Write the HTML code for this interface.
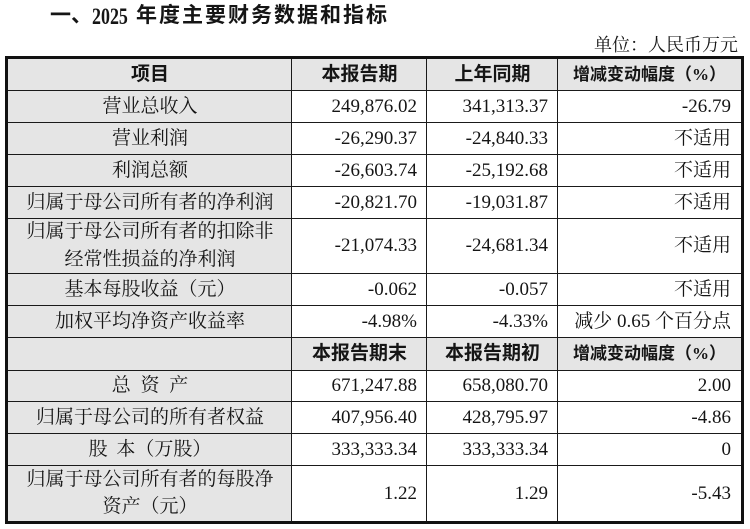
<!DOCTYPE html>
<html><head><meta charset="utf-8">
<style>
html,body{margin:0;padding:0;background:#fff;}
body{width:750px;height:529px;position:relative;overflow:hidden;color:#151515;}
.a{position:absolute;white-space:nowrap;}
.s{font-family:"Liberation Serif","Noto Serif CJK SC",serif;font-size:19px;}
.h{font-family:"Liberation Serif","Noto Sans CJK SC",sans-serif;font-size:19px;font-weight:700;}
.g{position:absolute;background:#e5e5e5;}
.hl{position:absolute;height:1px;background:#1a1a1a;left:8px;width:733px;}
.vl{position:absolute;width:1px;background:#1a1a1a;top:59px;height:462px;}
.c1{left:8px;width:284px;text-align:center;}
.c2{left:292px;width:125px;text-align:right;}
.c3{left:427px;width:121px;text-align:right;}
.c4{left:558px;width:173px;text-align:right;}
.h2{left:292px;width:135px;text-align:center;}
.h3{left:427px;width:131px;text-align:center;}
.h4{left:558px;width:183px;text-align:center;}
</style></head><body>

<!-- title -->
<div class="a" style="left:50px;top:1px;line-height:30px;font-family:'Liberation Sans','Noto Sans CJK SC',sans-serif;font-weight:700;font-size:21px;">一、</div>
<div class="a" style="left:92px;top:2px;line-height:30px;font-family:'Liberation Serif',serif;font-weight:700;font-size:23px;transform:scaleX(0.78);transform-origin:0 0;">2025</div>
<div class="a" style="left:136px;top:1px;line-height:30px;font-family:'Liberation Sans','Noto Sans CJK SC',sans-serif;font-weight:700;font-size:21px;letter-spacing:2px;">年度主要财务数据和指标</div>

<div class="a" style="right:12px;top:35px;line-height:21px;font-family:'Liberation Serif','Noto Serif CJK SC',serif;font-size:18px;">单位：人民币万元</div>

<!-- backgrounds -->
<div class="g" style="left:8px;top:59px;width:284px;height:462px;"></div>
<div class="g" style="left:8px;top:59px;width:733px;height:31px;"></div>
<div class="g" style="left:8px;top:338px;width:733px;height:32px;"></div>

<!-- outer border -->
<div class="a" style="left:5px;top:56px;width:733px;height:462px;border:3px solid #111;"></div>

<!-- horizontal lines -->
<div class="hl" style="top:90px;"></div>
<div class="hl" style="top:122px;"></div>
<div class="hl" style="top:154px;"></div>
<div class="hl" style="top:186px;"></div>
<div class="hl" style="top:218px;"></div>
<div class="hl" style="top:273px;"></div>
<div class="hl" style="top:305px;"></div>
<div class="hl" style="top:337px;"></div>
<div class="hl" style="top:370px;"></div>
<div class="hl" style="top:401px;"></div>
<div class="hl" style="top:433px;"></div>
<div class="hl" style="top:465px;"></div>

<!-- vertical lines -->
<div class="vl" style="left:291px;"></div>
<div class="vl" style="left:426px;"></div>
<div class="vl" style="left:557px;"></div>

<!-- header row -->
<div class="a h c1" style="top:59px;line-height:31px;">项目</div>
<div class="a h h2" style="top:59px;line-height:31px;">本报告期</div>
<div class="a h h3" style="top:59px;line-height:31px;">上年同期</div>
<div class="a h h4" style="top:59px;line-height:31px;font-size:17px;">增减变动幅度（%）</div>

<!-- r1 -->
<div class="a s c1" style="top:91px;line-height:31px;">营业总收入</div>
<div class="a s c2" style="top:91px;line-height:31px;">249,876.02</div>
<div class="a s c3" style="top:91px;line-height:31px;">341,313.37</div>
<div class="a s c4" style="top:91px;line-height:31px;">-26.79</div>
<!-- r2 -->
<div class="a s c1" style="top:123px;line-height:31px;">营业利润</div>
<div class="a s c2" style="top:123px;line-height:31px;">-26,290.37</div>
<div class="a s c3" style="top:123px;line-height:31px;">-24,840.33</div>
<div class="a s c4" style="top:123px;line-height:31px;">不适用</div>
<!-- r3 -->
<div class="a s c1" style="top:155px;line-height:31px;">利润总额</div>
<div class="a s c2" style="top:155px;line-height:31px;">-26,603.74</div>
<div class="a s c3" style="top:155px;line-height:31px;">-25,192.68</div>
<div class="a s c4" style="top:155px;line-height:31px;">不适用</div>
<!-- r4 -->
<div class="a s c1" style="top:187px;line-height:31px;">归属于母公司所有者的净利润</div>
<div class="a s c2" style="top:187px;line-height:31px;">-20,821.70</div>
<div class="a s c3" style="top:187px;line-height:31px;">-19,031.87</div>
<div class="a s c4" style="top:187px;line-height:31px;">不适用</div>
<!-- r5 -->
<div class="a s c1" style="top:218px;line-height:28px;">归属于母公司所有者的扣除非<br>经常性损益的净利润</div>
<div class="a s c2" style="top:219px;line-height:54px;">-21,074.33</div>
<div class="a s c3" style="top:219px;line-height:54px;">-24,681.34</div>
<div class="a s c4" style="top:219px;line-height:54px;">不适用</div>
<!-- r6 -->
<div class="a s c1" style="top:274px;line-height:31px;">基本每股收益（元）</div>
<div class="a s c2" style="top:274px;line-height:31px;">-0.062</div>
<div class="a s c3" style="top:274px;line-height:31px;">-0.057</div>
<div class="a s c4" style="top:274px;line-height:31px;">不适用</div>
<!-- r7 -->
<div class="a s c1" style="top:306px;line-height:31px;">加权平均净资产收益率</div>
<div class="a s c2" style="top:306px;line-height:31px;">-4.98%</div>
<div class="a s c3" style="top:306px;line-height:31px;">-4.33%</div>
<div class="a s c4" style="top:306px;line-height:31px;">减少 0.65 个百分点</div>
<!-- r8 header2 -->
<div class="a h h2" style="top:338px;line-height:32px;">本报告期末</div>
<div class="a h h3" style="top:338px;line-height:32px;">本报告期初</div>
<div class="a h h4" style="top:338px;line-height:32px;font-size:17px;">增减变动幅度（%）</div>
<!-- r9 -->
<div class="a s c1" style="top:371px;line-height:30px;word-spacing:5px;">总 资 产</div>
<div class="a s c2" style="top:371px;line-height:30px;">671,247.88</div>
<div class="a s c3" style="top:371px;line-height:30px;">658,080.70</div>
<div class="a s c4" style="top:371px;line-height:30px;">2.00</div>
<!-- r10 -->
<div class="a s c1" style="top:402px;line-height:31px;">归属于母公司的所有者权益</div>
<div class="a s c2" style="top:402px;line-height:31px;">407,956.40</div>
<div class="a s c3" style="top:402px;line-height:31px;">428,795.97</div>
<div class="a s c4" style="top:402px;line-height:31px;">-4.86</div>
<!-- r11 -->
<div class="a s c1" style="top:434px;line-height:31px;word-spacing:4px;">股 本（万股）</div>
<div class="a s c2" style="top:434px;line-height:31px;">333,333.34</div>
<div class="a s c3" style="top:434px;line-height:31px;">333,333.34</div>
<div class="a s c4" style="top:434px;line-height:31px;">0</div>
<!-- r12 -->
<div class="a s c1" style="top:466px;line-height:27px;">归属于母公司所有者的每股净<br>资产（元）</div>
<div class="a s c2" style="top:466px;line-height:55px;">1.22</div>
<div class="a s c3" style="top:466px;line-height:55px;">1.29</div>
<div class="a s c4" style="top:466px;line-height:55px;">-5.43</div>

</body></html>
